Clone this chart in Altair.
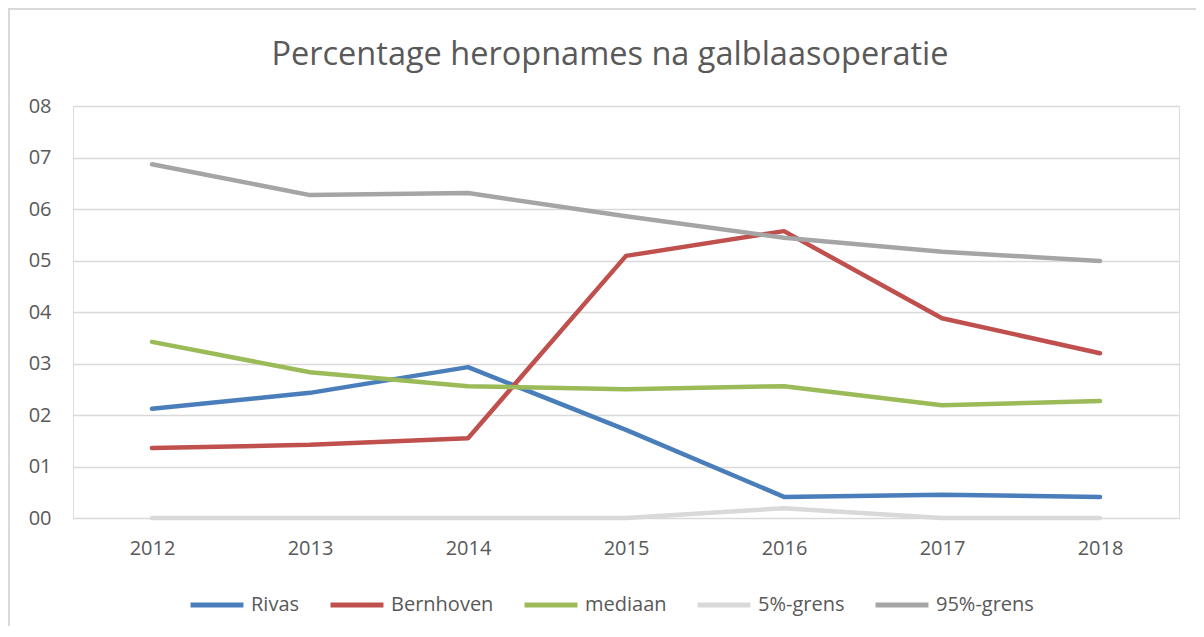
import altair as alt
import pandas as pd

years = ["2012", "2013", "2014", "2015", "2016", "2017", "2018"]
series_names = ["Rivas", "Bernhoven", "mediaan", "5%-grens", "95%-grens"]
rivas = [2.12, 2.43, 2.93, 1.71, 0.41, 0.45, 0.41]
bernhoven = [1.36, 1.42, 1.55, 5.09, 5.57, 3.88, 3.20]
mediaan = [3.42, 2.83, 2.56, 2.50, 2.56, 2.19, 2.27]
grens5 = [0.0, 0.0, 0.0, 0.0, 0.19, 0.0, 0.0]
grens95 = [6.87, 6.27, 6.31, 5.86, 5.44, 5.17, 4.99]
colors = ["#4a7ebb", "#c0504d", "#9bbb59", "#d9d9d9", "#a5a5a5"]
y_ticks = [0, 1, 2, 3, 4, 5, 6, 7, 8]

rows = []
for name, vals in zip(series_names, [rivas, bernhoven, mediaan, grens5, grens95]):
    for y, v in zip(years, vals):
        rows.append({"jaar": y, "serie": name, "waarde": v})
df = pd.DataFrame(rows)

FONT = "Open Sans"
TXT = "#595959"

color = alt.Color(
    "serie:N",
    scale=alt.Scale(domain=series_names, range=colors),
    legend=alt.Legend(
        title=None,
        orient="none",
        direction="horizontal",
        legendX=115,
        legendY=470,
        symbolType="stroke",
        symbolSize=2800,
        symbolStrokeWidth=5,
        labelFontSize=20,
        labelFont=FONT,
        labelColor=TXT,
        labelOffset=5,
        columnPadding=20,
    ),
)

x = alt.X(
    "jaar:O",
    sort=years,
    scale=alt.Scale(paddingInner=0, paddingOuter=0.5),
    axis=alt.Axis(
        title=None,
        labelAngle=0,
        labelFont=FONT,
        labelFontSize=20,
        labelColor=TXT,
        labelPadding=20,
        ticks=False,
        domain=False,
        grid=False,
    ),
)
y = alt.Y(
    "waarde:Q",
    scale=alt.Scale(domain=[0, 8], nice=False),
    axis=alt.Axis(
        title=None,
        values=y_ticks,
        labelExpr="'0' + datum.value",
        labelFont=FONT,
        labelFontSize=20,
        labelColor=TXT,
        labelPadding=22,
        ticks=False,
        domain=False,
        grid=True,
        gridColor="#d9d9d9",
        gridWidth=1.5,
    ),
)

layers = []
for name in series_names:
    layers.append(
        alt.Chart(df)
        .transform_filter(alt.datum.serie == name)
        .mark_line(strokeWidth=4.5, strokeCap="round", strokeJoin="round")
        .encode(x=x, y=y, color=color)
    )

frame_top = alt.Chart(pd.DataFrame({"a": [0]})).mark_rule(color="#d9d9d9", strokeWidth=2).encode(
    x=alt.value(-65), x2=alt.value(1130), y=alt.value(-97)
)
frame_left = alt.Chart(pd.DataFrame({"a": [0]})).mark_rule(color="#d9d9d9", strokeWidth=2).encode(
    x=alt.value(-64), y=alt.value(-98), y2=alt.value(520)
)

chart = (
    alt.layer(frame_top, frame_left, *layers)
    .properties(
        width=1106,
        height=412,
        title=alt.TitleParams(
            "Percentage heropnames na galblaasoperatie",
            font=FONT,
            fontSize=32.5,
            fontWeight="normal",
            color=TXT,
            anchor="middle",
            frame="group",
            baseline="alphabetic",
            offset=0,
            dx=-16,
            dy=90,
        ),
        autosize=alt.AutoSizeParams(type="none"),
        padding={"left": 65, "top": 98, "right": 17, "bottom": 111},
    )
    .configure_view(stroke=None)
    .configure(background="white")
)

chart.save("out.html", embed_options={"renderer": "svg", "actions": False})
